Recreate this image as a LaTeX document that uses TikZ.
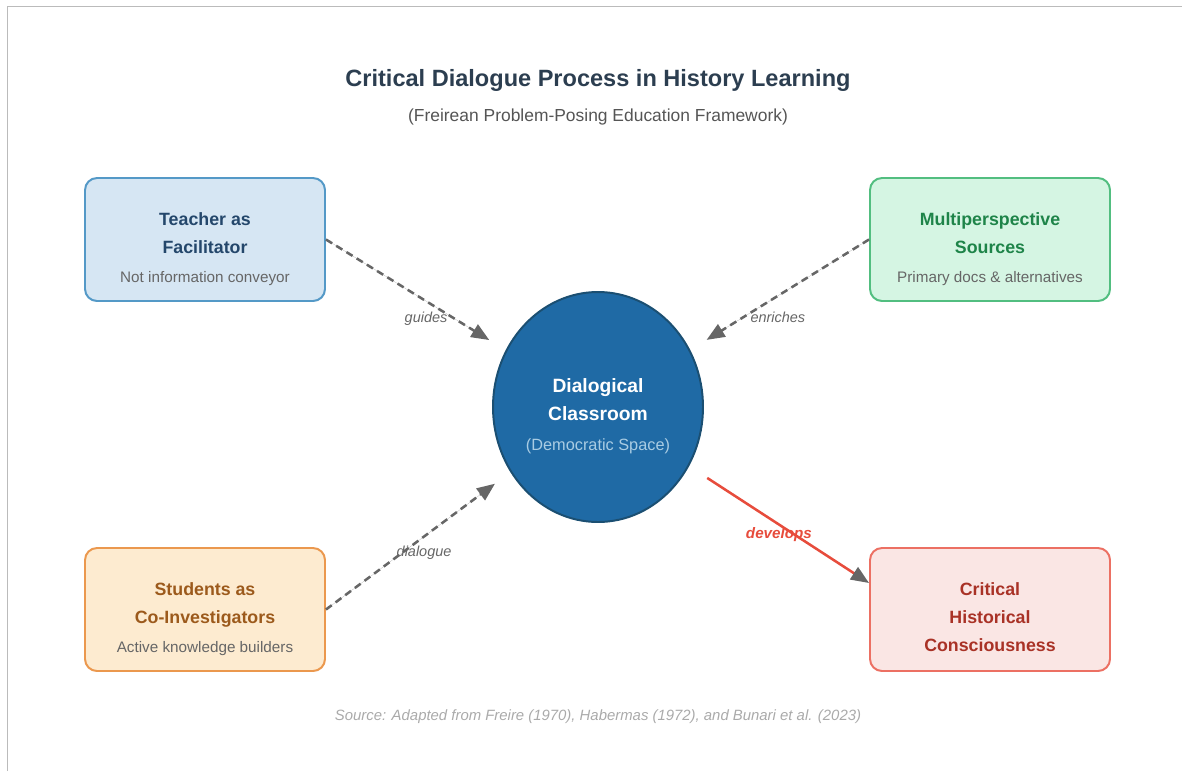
\documentclass[tikz,border=0pt]{standalone}
\usepackage{fontspec}
\setmainfont{Liberation Sans}
\usetikzlibrary{arrows.meta,shapes.geometric}

\definecolor{titlecol}{HTML}{2C3E50}
\definecolor{subcol}{HTML}{555555}
\definecolor{notecol}{HTML}{666666}
\definecolor{framecol}{HTML}{BBBBBB}
\definecolor{arrowgray}{HTML}{666666}
\definecolor{footcol}{HTML}{AAAAAA}
\definecolor{teafill}{HTML}{D6E6F3}
\definecolor{tealine}{HTML}{5499C7}
\definecolor{teatext}{HTML}{24476B}
\definecolor{srcfill}{HTML}{D5F5E3}
\definecolor{srcline}{HTML}{52BE80}
\definecolor{srctext}{HTML}{1E8449}
\definecolor{stufill}{HTML}{FDEBD0}
\definecolor{stuline}{HTML}{EB984E}
\definecolor{stutext}{HTML}{9C5A1C}
\definecolor{crifill}{HTML}{FAE6E4}
\definecolor{criline}{HTML}{EC7063}
\definecolor{critext}{HTML}{A93226}
\definecolor{clsfill}{HTML}{1F6AA5}
\definecolor{clsline}{HTML}{1B4F72}
\definecolor{clsnote}{HTML}{A9CCE3}
\definecolor{devred}{HTML}{E74C3C}

% strut that pushes the text of a box a little down
\newcommand{\padtop}[1]{\rule{0pt}{#1}}
\newcommand{\boxnote}[1]{{\fontsize{10.85}{13}\selectfont\mdseries\color{notecol}#1}}

\begin{document}
\begin{tikzpicture}[>={Triangle[length=0.45cm,width=0.36cm]}]
    \tikzstyle{box}=[rectangle, rounded corners=0.3cm, minimum width=6cm, minimum height=3.075cm, line width=1.4pt, align=center, font=\fontsize{12.65}{19.9}\selectfont\bfseries]
    \tikzstyle{teacher box}=[box, draw=tealine, fill=teafill, text=teatext]
    \tikzstyle{source box}=[box, draw=srcline, fill=srcfill, text=srctext]
    \tikzstyle{student box}=[box, draw=stuline, fill=stufill, text=stutext]
    \tikzstyle{outcome box}=[box, draw=criline, fill=crifill, text=critext]
    \tikzstyle{classroom}=[ellipse, minimum width=5.25cm, minimum height=5.75cm, inner sep=0pt, draw=clsline, fill=clsfill, line width=1.4pt, text=white, align=center, font=\fontsize{13.7}{19.9}\selectfont\bfseries]
    \tikzstyle{flow}=[->, draw=arrowgray, fill=arrowgray, line width=1.8pt, dash pattern=on 0.18cm off 0.12cm, shorten >=0.48cm]
    \tikzstyle{edge label}=[font=\fontsize{10.3}{12}\selectfont\itshape, text=arrowgray]

    \useasboundingbox (0,0) rectangle (29.55,-19.275);
    \draw[framecol, line width=1.4pt] (0.1875,-19.275) -- (0.1875,-0.1625) -- (29.55,-0.1625);

    % Title and subtitle
    \node[font=\fontsize{16.75}{20}\selectfont\bfseries, text=titlecol] (title) at (14.95,-2.0) {Critical Dialogue Process in History Learning};
    \node[font=\fontsize{12.4}{15}\selectfont, text=subcol] (subtitle) at (14.95,-2.925) {(Freirean Problem-Posing Education Framework)};

    % The dialogical classroom in the middle
    \node[classroom] (cls) at (14.95,-10.175) {\padtop{22.7pt}Dialogical\\Classroom\\[1.5pt]{\fontsize{11.6}{14}\selectfont\mdseries\color{clsnote}(Democratic Space)}};

    % The four corner boxes
    \node[teacher box] (tl) at (5.125,-5.9875) {\padtop{23.3pt}Teacher as\\Facilitator\\[1pt]\boxnote{Not information conveyor}};
    \node[source box] (tr) at (24.75,-5.9875) {\padtop{23.3pt}Multiperspective\\Sources\\[1pt]\boxnote{Primary docs \& alternatives}};
    \node[student box] (bl) at (5.125,-15.2375) {\padtop{23.3pt}Students as\\Co-Investigators\\[1pt]\boxnote{Active knowledge builders}};
    \node[outcome box] (br) at (24.75,-15.2375) {\padtop{20.5pt}Critical\\Historical\\Consciousness};

    % Dashed inputs into the classroom
    \foreach \src/\word/\where/\ys in {tl.east/guides/0.557/-0.45cm, tr.west/enriches/0.51/-0.53cm, bl.east/dialogue/0.532/-0.4cm}
        \draw[flow] (\src) -- (cls) node[edge label, pos=\where, yshift=\ys] {\word};

    % Outcome of the dialogue
    \draw[->, draw=devred, line width=1.8pt, shorten <=0.54cm, >={Triangle[length=0.45cm,width=0.36cm,color=arrowgray]}] (cls) -- ([yshift=0.6625cm]br.west)
        node[edge label, pos=0.499, yshift=-0.25cm, text=devred, font=\fontsize{10.8}{12}\selectfont\bfseries\itshape] {develops};

    % Source line
    \node[font=\fontsize{10.6}{12}\selectfont\itshape, text=footcol] (foot) at (14.95,-17.925) {Source: Adapted from Freire (1970), Habermas (1972), and Bunari et al. (2023)};
\end{tikzpicture}
\end{document}
